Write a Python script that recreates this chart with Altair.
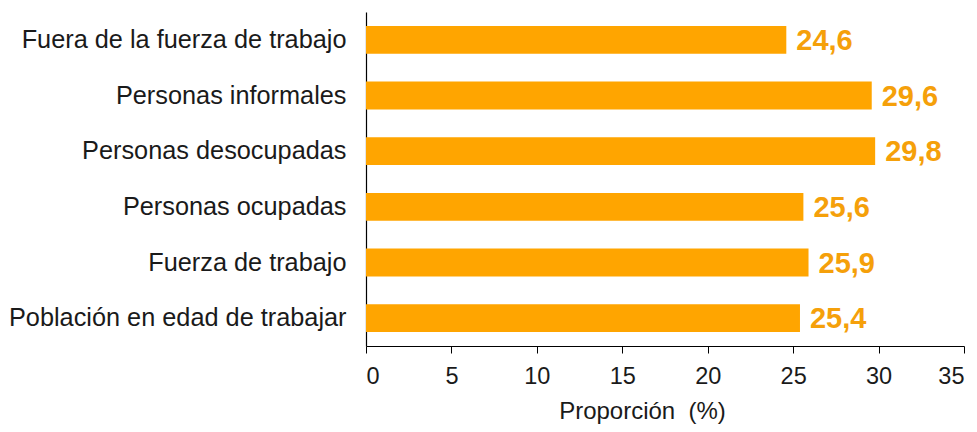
import altair as alt
import pandas as pd

categories = [
    "Fuera de la fuerza de trabajo",
    "Personas informales",
    "Personas desocupadas",
    "Personas ocupadas",
    "Fuerza de trabajo",
    "Población en edad de trabajar",
]
values = [24.6, 29.6, 29.8, 25.6, 25.9, 25.4]
labels = ["24,6", "29,6", "29,8", "25,6", "25,9", "25,4"]

df = pd.DataFrame({"cat": categories, "val": values, "lab": labels})

FONT = "Liberation Sans"

y = alt.Y("cat:N", sort=categories, title=None,
          scale=alt.Scale(paddingInner=0.5, paddingOuter=0.25),
          axis=alt.Axis(labelFontSize=25.3, labelColor="#1a1a1a", labelFont=FONT,
                        ticks=False, domainColor="#000000", domainWidth=1.2,
                        labelPadding=20, labelLimit=500))
x = alt.X("val:Q", title="Proporción\u00a0\u00a0(%)",
          scale=alt.Scale(domain=[0, 35], nice=False),
          axis=alt.Axis(values=list(range(0, 36, 5)), labelFontSize=23.5,
                        labelFont=FONT, labelColor="#1a1a1a", titleFont=FONT,
                        titleFontSize=24, titleFontWeight="normal",
                        titleColor="#1a1a1a", titlePadding=12,
                        titleX=276, titleAlign="center", titleAnchor="start",
                        grid=False, tickColor="#000000", tickSize=7,
                        domainColor="#000000", domainWidth=1.2, labelPadding=11))

bars = alt.Chart(df).mark_bar(color="#FFA500").encode(y=y, x=x)
text = alt.Chart(df).mark_text(align="left", baseline="middle", dx=10, dy=1,
                               fontSize=29, fontWeight="bold", font=FONT,
                               color="#F5A00A").encode(
    y=alt.Y("cat:N", sort=categories), x="val:Q", text="lab:N")

chart = (bars + text).properties(
    width=598, height=334,
    autosize=alt.AutoSizeParams(type="none"),
    padding={"left": 358, "top": 4, "right": 5, "bottom": 78},
).configure_view(stroke=None)

chart.save("out.html", embed_options={"renderer": "svg", "actions": False})
